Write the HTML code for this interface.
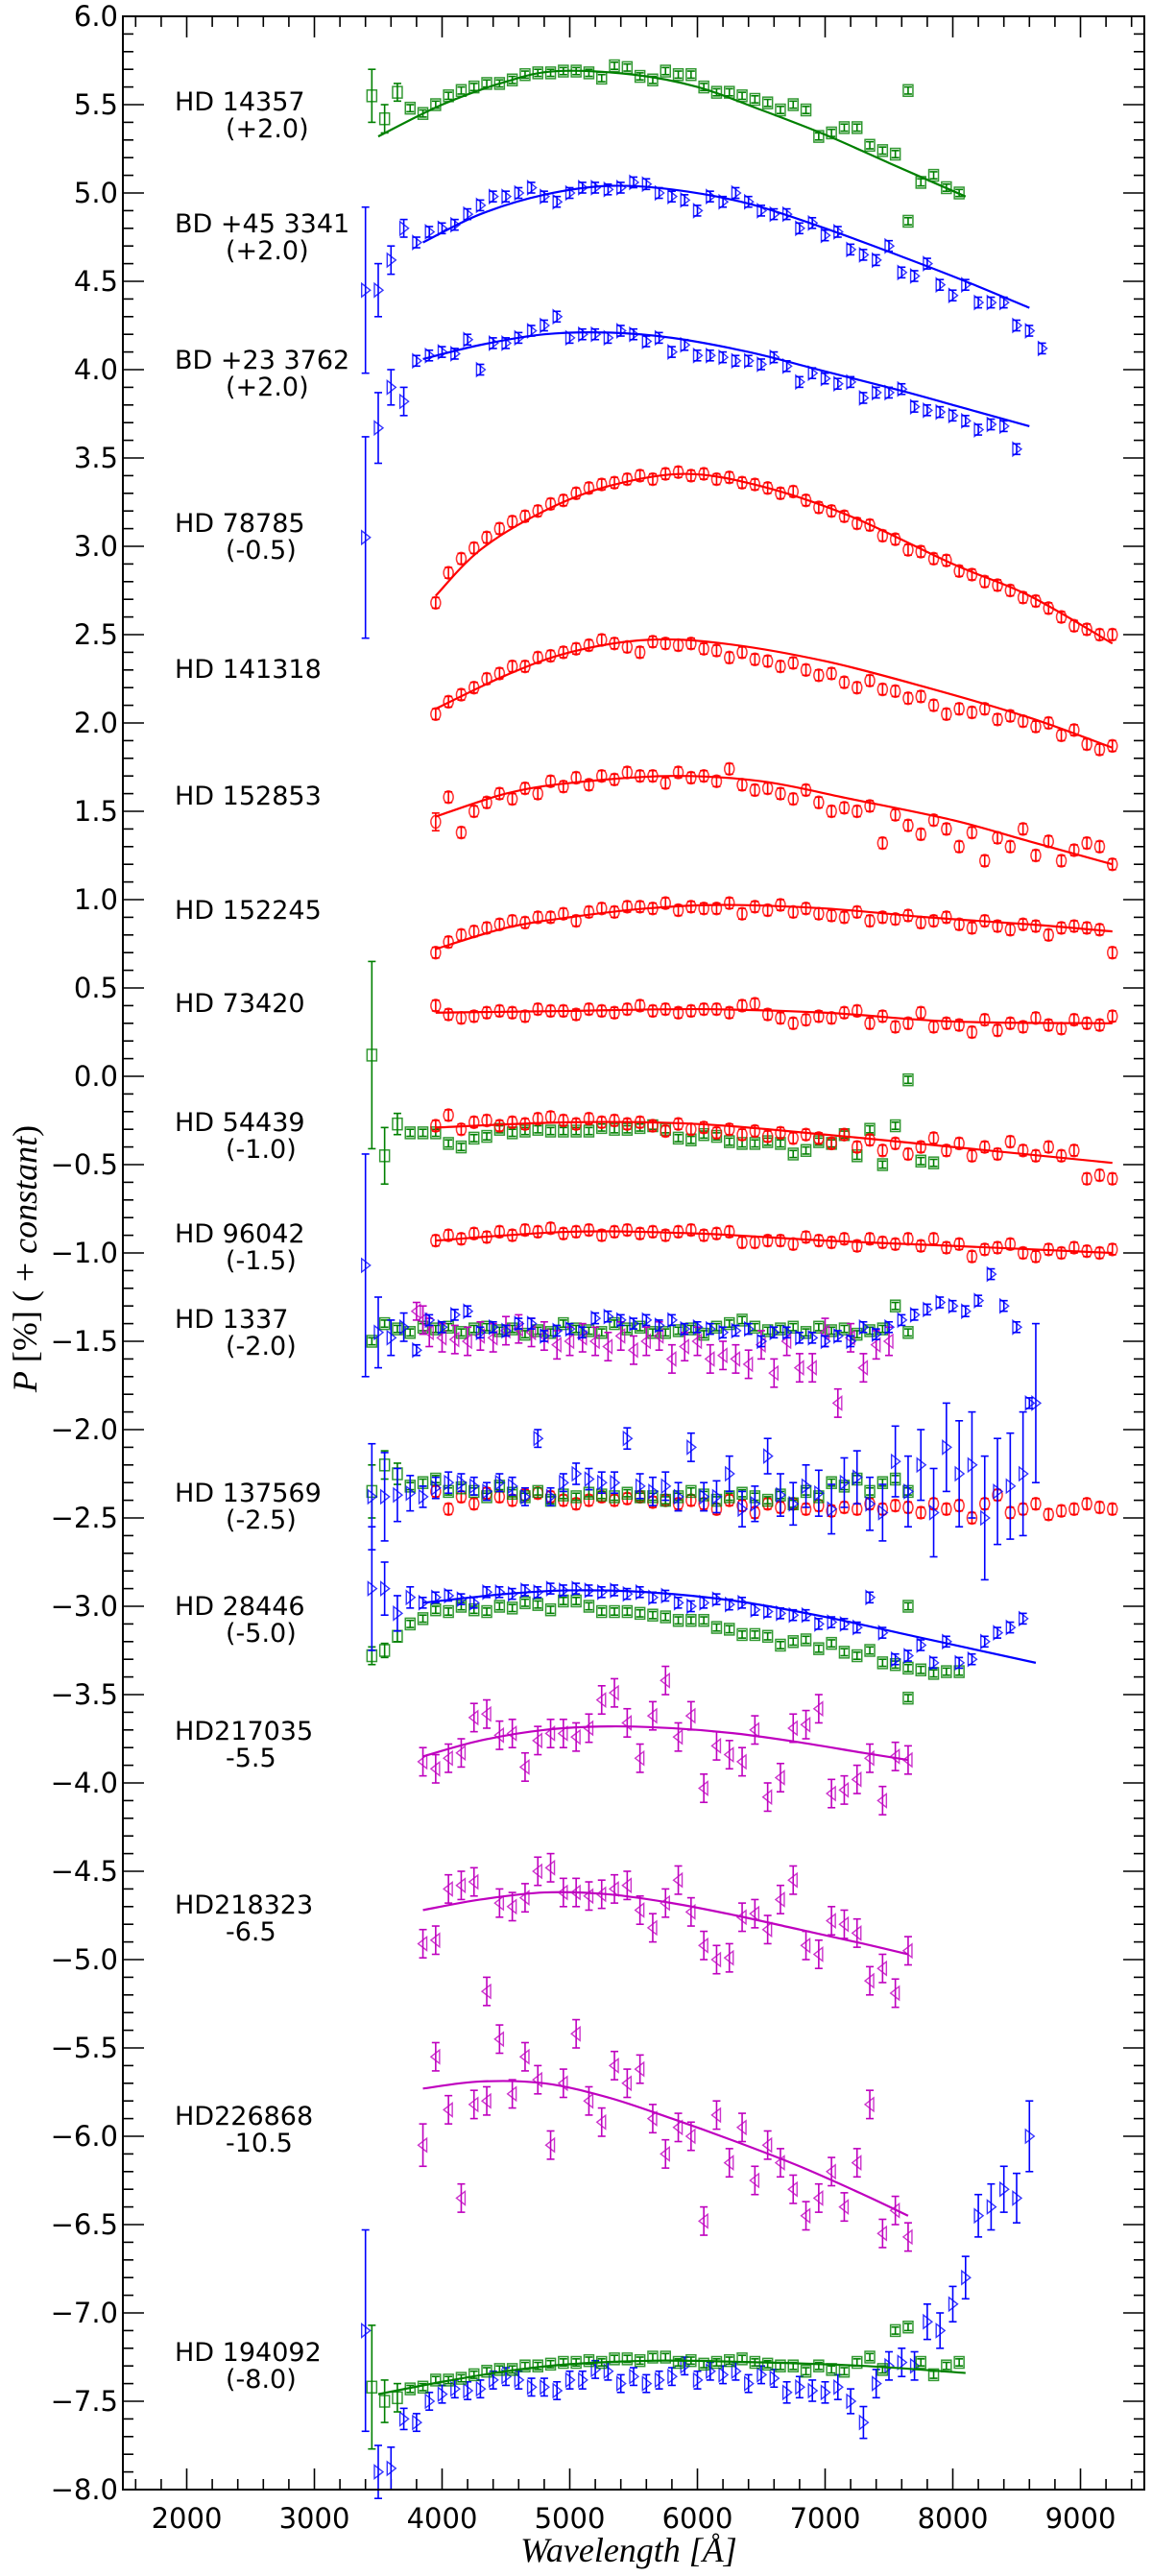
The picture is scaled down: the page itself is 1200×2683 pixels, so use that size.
<!DOCTYPE html>
<html><head><meta charset="utf-8"><style>
html,body{margin:0;padding:0;background:#fff}
svg{display:block}
text{font-family:"DejaVu Sans","Liberation Sans",sans-serif}
</style></head><body>
<svg id="chart" width="1200" height="2683" viewBox="0 0 1200 2683" xmlns="http://www.w3.org/2000/svg">
<g id="ticks"></g>
<g id="series"></g>
<rect x="128" y="17" width="1064" height="2576" fill="none" stroke="#000" stroke-width="2"/>
<g id="labels"></g>
<text x="655" y="2668" text-anchor="middle" font-size="36" style="font-family:'Liberation Serif','DejaVu Serif',serif;font-style:italic">Wavelength [Å]</text>
<text transform="translate(38,1311) rotate(-90)" text-anchor="middle" font-size="36" style="font-family:'Liberation Serif','DejaVu Serif',serif"><tspan font-style="italic">P</tspan> [%]  ( + <tspan font-style="italic">constant</tspan>)</text>
</svg>
<script>
// x-axis tick labels
const xTicks = [2000,3000,4000,5000,6000,7000,8000,9000];
const yTicks = [6.0,5.5,5.0,4.5,4.0,3.5,3.0,2.5,2.0,1.5,1.0,0.5,0.0,-0.5,-1.0,-1.5,-2.0,-2.5,-3.0,-3.5,-4.0,-4.5,-5.0,-5.5,-6.0,-6.5,-7.0,-7.5,-8.0];

// grids (start wavelength, step)
const redStart = 3950, redStep = 100;
const blueStart = 3400, blueStep = 100;
const greenStart = 3450, greenStep = 100;
const magStart = 3850, magStep = 100;

// HD 14357 (+2.0) green
const hd14357_g = [5.55,5.42,5.57,5.48,5.45,5.5,5.55,5.58,5.6,5.62,5.62,5.64,5.67,5.68,5.68,5.69,5.69,5.68,5.65,5.72,5.71,5.66,5.64,5.69,5.67,5.67,5.6,5.57,5.57,5.55,5.53,5.51,5.47,5.5,5.47,5.32,5.34,5.37,5.37,5.27,5.24,5.22,5.58,5.06,5.1,5.03,5.0];
const hd14357_gErr = [0.15,0.08,0.05];
const fit14357_w = [3500,4000,4500,4900,5500,6000,6500,7000,7500,8100];
const fit14357_p = [5.32,5.5,5.63,5.69,5.67,5.6,5.47,5.33,5.17,4.98];
const hd14357_extraW = [7650];
const hd14357_extraP = [4.84];

// BD +45 3341 (+2.0) blue
const bd45_b = [4.45,4.45,4.62,4.8,4.72,4.78,4.8,4.82,4.88,4.93,4.98,4.98,5.0,5.03,4.98,4.95,5.0,5.03,5.03,5.02,5.03,5.06,5.05,5.0,4.98,4.96,4.9,4.98,4.95,5.0,4.95,4.9,4.88,4.88,4.8,4.83,4.76,4.78,4.68,4.65,4.62,4.7,4.55,4.53,4.6,4.48,4.42,4.48,4.38,4.38,4.38,4.25,4.22,4.12];
const bd45_bErr = [0.47,0.15,0.08,0.05];
const fit45_w = [3850,4300,4800,5300,5800,6400,7000,7600,8100,8600];
const fit45_p = [4.72,4.88,4.99,5.04,5.02,4.94,4.8,4.64,4.5,4.35];

// BD +23 3762 (+2.0) blue
const bd23_b = [3.05,3.67,3.9,3.82,4.05,4.08,4.1,4.09,4.17,4.0,4.15,4.15,4.18,4.22,4.25,4.3,4.18,4.2,4.2,4.18,4.22,4.2,4.16,4.18,4.1,4.14,4.08,4.08,4.07,4.05,4.05,4.03,4.07,4.02,3.93,3.98,3.95,3.92,3.93,3.84,3.87,3.87,3.89,3.79,3.77,3.76,3.74,3.71,3.66,3.69,3.68,3.55];
const bd23_bErr = [0.57,0.2,0.1,0.08];
const fit23_w = [3850,4300,4800,5300,5800,6400,7000,7600,8100,8600];
const fit23_p = [4.06,4.14,4.2,4.21,4.18,4.1,3.99,3.88,3.78,3.68];

// HD 78785 (-0.5) red
const hd78785_r = [2.68,2.85,2.93,2.99,3.05,3.1,3.14,3.17,3.2,3.24,3.26,3.3,3.33,3.35,3.36,3.38,3.4,3.38,3.41,3.42,3.4,3.41,3.38,3.39,3.36,3.35,3.33,3.3,3.31,3.26,3.22,3.2,3.17,3.13,3.12,3.06,3.04,2.98,2.97,2.93,2.92,2.86,2.84,2.8,2.78,2.75,2.71,2.69,2.65,2.6,2.55,2.53,2.5,2.5];
const fit78785_w = [3950,4300,4800,5300,5900,6500,7200,8000,8600,9250];
const fit78785_p = [2.72,2.98,3.2,3.34,3.41,3.34,3.17,2.9,2.72,2.45];

// HD 141318 red
const hd141318_r = [2.05,2.12,2.16,2.2,2.25,2.28,2.32,2.32,2.37,2.38,2.4,2.42,2.44,2.47,2.45,2.43,2.4,2.46,2.45,2.44,2.45,2.42,2.41,2.37,2.4,2.36,2.35,2.32,2.34,2.3,2.27,2.28,2.23,2.2,2.24,2.19,2.18,2.14,2.15,2.1,2.05,2.08,2.06,2.08,2.02,2.04,2.01,1.98,2.0,1.93,1.96,1.88,1.85,1.87];
const fit141318_w = [3950,4500,5000,5600,6200,7000,7800,8600,9250];
const fit141318_p = [2.08,2.27,2.4,2.47,2.45,2.35,2.2,2.03,1.86];

// HD 152853 red
const hd152853_r = [1.44,1.58,1.38,1.5,1.55,1.6,1.57,1.63,1.6,1.67,1.64,1.69,1.65,1.7,1.68,1.72,1.7,1.7,1.66,1.72,1.69,1.7,1.67,1.74,1.65,1.62,1.63,1.6,1.57,1.62,1.55,1.5,1.52,1.5,1.53,1.32,1.48,1.42,1.37,1.45,1.4,1.3,1.38,1.22,1.35,1.3,1.4,1.25,1.33,1.22,1.28,1.32,1.3,1.2];
const fit152853_w = [3950,4500,5000,5800,6500,7200,8000,8600,9250];
const fit152853_p = [1.47,1.6,1.66,1.7,1.67,1.57,1.45,1.33,1.2];

// HD 152245 red
const hd152245_r = [0.7,0.76,0.8,0.82,0.84,0.86,0.88,0.87,0.9,0.9,0.92,0.88,0.93,0.95,0.93,0.96,0.96,0.95,0.98,0.94,0.96,0.95,0.95,0.98,0.92,0.96,0.94,0.97,0.93,0.95,0.92,0.91,0.9,0.93,0.88,0.9,0.89,0.91,0.87,0.88,0.9,0.86,0.84,0.88,0.85,0.83,0.86,0.85,0.8,0.84,0.85,0.84,0.83,0.7];
const fit152245_w = [3950,4500,5000,5600,6200,7000,7800,8600,9250];
const fit152245_p = [0.72,0.84,0.9,0.95,0.97,0.95,0.9,0.86,0.82];

// HD 73420 red
const hd73420_r = [0.4,0.35,0.33,0.34,0.36,0.37,0.36,0.34,0.38,0.37,0.37,0.35,0.38,0.37,0.36,0.38,0.4,0.37,0.38,0.36,0.37,0.38,0.38,0.36,0.4,0.41,0.35,0.33,0.3,0.32,0.34,0.33,0.36,0.37,0.3,0.34,0.28,0.3,0.36,0.28,0.3,0.29,0.25,0.32,0.26,0.3,0.28,0.33,0.29,0.27,0.32,0.3,0.29,0.34];
const fit73420_w = [3950,5000,6000,7000,8000,9250];
const fit73420_p = [0.36,0.37,0.38,0.36,0.31,0.3];

// HD 54439 (-1.0)
const hd54439_r = [-0.28,-0.22,-0.3,-0.26,-0.25,-0.28,-0.26,-0.27,-0.24,-0.23,-0.25,-0.27,-0.24,-0.26,-0.25,-0.27,-0.26,-0.28,-0.31,-0.27,-0.3,-0.29,-0.32,-0.3,-0.33,-0.31,-0.34,-0.32,-0.35,-0.33,-0.35,-0.38,-0.33,-0.4,-0.36,-0.42,-0.38,-0.44,-0.4,-0.35,-0.42,-0.38,-0.45,-0.4,-0.44,-0.37,-0.42,-0.45,-0.4,-0.45,-0.42,-0.58,-0.56,-0.58];
const fit54439_w = [3950,5000,6000,7000,8000,9250];
const fit54439_p = [-0.29,-0.26,-0.27,-0.33,-0.4,-0.49];
const hd54439_g = [0.12,-0.45,-0.27,-0.32,-0.32,-0.32,-0.38,-0.4,-0.35,-0.34,-0.3,-0.32,-0.31,-0.3,-0.31,-0.31,-0.31,-0.31,-0.29,-0.3,-0.3,-0.29,-0.28,-0.3,-0.35,-0.36,-0.33,-0.34,-0.37,-0.38,-0.38,-0.37,-0.38,-0.44,-0.42,-0.37,-0.38,-0.33,-0.45,-0.3,-0.5,-0.28,-0.02,-0.48,-0.49];
const hd54439_gErr = [0.53,0.16,0.06];

// HD 96042 (-1.5) red
const hd96042_r = [-0.93,-0.9,-0.92,-0.89,-0.91,-0.88,-0.9,-0.87,-0.88,-0.86,-0.89,-0.88,-0.87,-0.9,-0.88,-0.87,-0.89,-0.88,-0.9,-0.88,-0.87,-0.9,-0.89,-0.88,-0.94,-0.94,-0.93,-0.93,-0.95,-0.91,-0.93,-0.94,-0.92,-0.96,-0.92,-0.94,-0.95,-0.92,-0.96,-0.92,-0.97,-0.95,-1.02,-0.98,-0.97,-0.95,-1.0,-1.02,-0.98,-1.0,-0.97,-0.99,-1.0,-0.98];
const fit96042_w = [3950,5000,6000,7000,8000,9250];
const fit96042_p = [-0.93,-0.88,-0.89,-0.93,-0.96,-1.0];

// HD 1337 (-2.0)
const hd1337_b = [-1.07,-1.45,-1.48,-1.42,-1.55,-1.38,-1.42,-1.35,-1.33,-1.45,-1.42,-1.44,-1.4,-1.4,-1.47,-1.44,-1.43,-1.45,-1.37,-1.36,-1.38,-1.4,-1.38,-1.41,-1.38,-1.43,-1.42,-1.43,-1.45,-1.44,-1.43,-1.5,-1.45,-1.45,-1.48,-1.48,-1.5,-1.47,-1.5,-1.42,-1.46,-1.42,-1.38,-1.35,-1.32,-1.28,-1.3,-1.33,-1.27,-1.12,-1.3,-1.42,-1.85];
const hd1337_bErr = [0.63,0.2,0.1,0.08];
const hd1337_g = [-1.5,-1.4,-1.43,-1.45,-1.42,-1.43,-1.42,-1.45,-1.43,-1.42,-1.44,-1.43,-1.46,-1.44,-1.45,-1.4,-1.43,-1.44,-1.45,-1.4,-1.43,-1.42,-1.45,-1.45,-1.44,-1.43,-1.46,-1.42,-1.4,-1.38,-1.42,-1.44,-1.43,-1.42,-1.45,-1.42,-1.44,-1.43,-1.46,-1.44,-1.43,-1.3,-1.45];
const hd1337_m_w = [3800,3850,3900,4000,4100,4200,4300,4400,4500,4600,4700,4800,4900,5000,5100,5200,5300,5400,5500,5600,5700,5800,5900,6000,6100,6200,6300,6400,6500,6600,6700,6800,6900,7000,7100,7200,7300,7400,7500];
const hd1337_m = [-1.33,-1.38,-1.45,-1.48,-1.49,-1.5,-1.47,-1.48,-1.44,-1.43,-1.45,-1.47,-1.52,-1.5,-1.48,-1.5,-1.53,-1.47,-1.55,-1.5,-1.47,-1.6,-1.53,-1.5,-1.6,-1.58,-1.6,-1.63,-1.52,-1.68,-1.5,-1.65,-1.65,-1.45,-1.85,-1.48,-1.65,-1.52,-1.5];

// HD 137569 (-2.5)
const hd137569_b = [-2.38,-2.38,-2.37,-2.36,-2.38,-2.33,-2.3,-2.3,-2.32,-2.35,-2.3,-2.32,-2.38,-2.05,-2.38,-2.3,-2.25,-2.28,-2.3,-2.3,-2.05,-2.32,-2.35,-2.32,-2.38,-2.1,-2.38,-2.38,-2.25,-2.45,-2.42,-2.15,-2.37,-2.42,-2.32,-2.36,-2.45,-2.3,-2.27,-2.42,-2.47,-2.18,-2.35,-2.2,-2.47,-2.1,-2.25,-2.2,-2.5,-2.35,-2.32,-2.25,-1.85];
const hd137569_bErr = [0.3,0.25,0.15,0.1,0.06,0.06,0.06,0.05,0.05,0.05,0.05,0.05,0.05,0.05,0.05,0.05,0.06,0.06,0.06,0.06,0.06,0.07,0.08,0.08,0.08,0.08,0.08,0.09,0.1,0.1,0.1,0.1,0.12,0.12,0.12,0.13,0.14,0.14,0.15,0.15,0.16,0.2,0.2,0.2,0.25,0.25,0.3,0.3,0.35,0.3,0.3,0.35,0.45];
const hd137569_g = [-2.35,-2.2,-2.25,-2.32,-2.3,-2.28,-2.35,-2.33,-2.35,-2.38,-2.32,-2.36,-2.38,-2.35,-2.4,-2.37,-2.38,-2.36,-2.37,-2.38,-2.36,-2.38,-2.38,-2.4,-2.38,-2.35,-2.37,-2.4,-2.38,-2.36,-2.38,-2.4,-2.37,-2.42,-2.35,-2.38,-2.3,-2.32,-2.28,-2.35,-2.3,-2.28,-2.35];
const hd137569_gErr = [0.15,0.08,0.06];
const hd137569_r = [-2.35,-2.45,-2.38,-2.42,-2.36,-2.38,-2.4,-2.37,-2.36,-2.38,-2.4,-2.42,-2.4,-2.38,-2.4,-2.39,-2.38,-2.41,-2.4,-2.42,-2.4,-2.42,-2.45,-2.4,-2.43,-2.47,-2.42,-2.44,-2.42,-2.45,-2.43,-2.46,-2.44,-2.45,-2.42,-2.45,-2.43,-2.44,-2.47,-2.42,-2.45,-2.43,-2.5,-2.42,-2.37,-2.47,-2.45,-2.42,-2.48,-2.46,-2.45,-2.42,-2.44,-2.45];

// HD 28446 (-5.0)
const hd28446_b = [-2.9,-2.9,-3.04,-2.95,-2.98,-2.95,-2.94,-2.96,-2.98,-2.92,-2.92,-2.93,-2.91,-2.92,-2.9,-2.91,-2.9,-2.91,-2.92,-2.91,-2.93,-2.92,-2.95,-2.94,-2.98,-3.0,-2.98,-2.96,-2.99,-2.98,-3.02,-3.03,-3.04,-3.05,-3.05,-3.1,-3.09,-3.1,-3.12,-2.95,-3.15,-3.3,-3.28,-3.22,-3.32,-3.2,-3.32,-3.3,-3.2,-3.15,-3.12,-3.07];
const hd28446_bStart = 3450;
const hd28446_bErr = [0.35,0.15,0.1,0.06];
const fit28446_w = [3850,4500,5000,5600,6300,7000,7700,8650];
const fit28446_p = [-2.98,-2.93,-2.91,-2.92,-2.97,-3.06,-3.17,-3.32];
const hd28446_g = [-3.28,-3.25,-3.17,-3.1,-3.07,-3.02,-3.03,-3.0,-3.02,-3.03,-3.0,-3.01,-2.98,-2.99,-3.02,-2.97,-2.97,-3.0,-3.03,-3.03,-3.03,-3.04,-3.05,-3.06,-3.08,-3.08,-3.08,-3.12,-3.13,-3.16,-3.16,-3.17,-3.22,-3.2,-3.19,-3.24,-3.21,-3.26,-3.28,-3.25,-3.32,-3.33,-3.35,-3.36,-3.38,-3.37,-3.37];
const hd28446_gExtraW = [7650,7650];
const hd28446_gExtraP = [-3.52,-3.0];

// HD217035 (-5.5) magenta
const hd217035_m = [-3.88,-3.92,-3.86,-3.83,-3.63,-3.61,-3.73,-3.72,-3.91,-3.76,-3.72,-3.72,-3.74,-3.69,-3.53,-3.49,-3.66,-3.86,-3.62,-3.42,-3.74,-3.62,-4.03,-3.79,-3.84,-3.88,-3.7,-4.08,-3.97,-3.69,-3.67,-3.58,-4.06,-4.04,-3.98,-3.86,-4.1,-3.85,-3.87];
const fit217035_w = [3850,4300,4800,5300,5800,6300,6800,7300,7650];
const fit217035_p = [-3.85,-3.76,-3.7,-3.68,-3.69,-3.72,-3.77,-3.83,-3.87];

// HD218323 (-6.5) magenta
const hd218323_m = [-4.91,-4.89,-4.6,-4.58,-4.56,-5.18,-4.68,-4.7,-4.65,-4.5,-4.48,-4.62,-4.62,-4.64,-4.63,-4.6,-4.58,-4.72,-4.82,-4.68,-4.55,-4.73,-4.92,-5.0,-4.99,-4.76,-4.74,-4.83,-4.66,-4.55,-4.92,-4.97,-4.78,-4.8,-4.85,-5.12,-5.05,-5.19,-4.95];
const fit218323_w = [3850,4300,4800,5300,5800,6300,6800,7300,7650];
const fit218323_p = [-4.72,-4.66,-4.62,-4.63,-4.68,-4.75,-4.83,-4.91,-4.97];

// HD226868 (-10.5) magenta
const hd226868_m = [-6.05,-5.55,-5.85,-6.35,-5.82,-5.8,-5.45,-5.76,-5.55,-5.68,-6.05,-5.7,-5.42,-5.8,-5.92,-5.6,-5.7,-5.62,-5.9,-6.1,-5.95,-6.0,-6.48,-5.88,-6.15,-5.95,-6.25,-6.05,-6.15,-6.3,-6.45,-6.35,-6.2,-6.4,-6.15,-5.82,-6.55,-6.42,-6.57];
const fit226868_w = [3850,4300,4800,5300,5800,6300,6800,7300,7650];
const fit226868_p = [-5.73,-5.69,-5.7,-5.78,-5.9,-6.03,-6.17,-6.33,-6.45];

// HD 194092 (-8.0)
const hd194092_g = [-7.42,-7.5,-7.48,-7.43,-7.42,-7.38,-7.38,-7.37,-7.35,-7.33,-7.32,-7.32,-7.3,-7.3,-7.29,-7.28,-7.28,-7.27,-7.28,-7.26,-7.26,-7.27,-7.25,-7.25,-7.28,-7.27,-7.29,-7.28,-7.27,-7.26,-7.28,-7.29,-7.3,-7.3,-7.33,-7.3,-7.32,-7.33,-7.28,-7.25,-7.32,-7.1,-7.08,-7.28,-7.35,-7.3,-7.28];
const hd194092_gErr = [0.35,0.12,0.08];
const fit194092_w = [3500,4000,4500,5000,5700,6500,7300,8100];
const fit194092_p = [-7.46,-7.39,-7.33,-7.29,-7.27,-7.28,-7.3,-7.34];
const hd194092_b = [-7.1,-7.9,-7.88,-7.6,-7.62,-7.5,-7.46,-7.43,-7.44,-7.43,-7.38,-7.36,-7.38,-7.42,-7.42,-7.44,-7.38,-7.38,-7.32,-7.33,-7.4,-7.36,-7.4,-7.38,-7.36,-7.3,-7.38,-7.33,-7.35,-7.33,-7.4,-7.35,-7.37,-7.45,-7.42,-7.44,-7.45,-7.42,-7.5,-7.62,-7.4,-7.3,-7.28,-7.3,-7.05,-7.1,-6.95,-6.8,-6.45,-6.4,-6.3,-6.35,-6.0];
const hd194092_bErr = [0.57,0.15,0.12,0.06,0.05,0.05,0.05,0.05,0.05,0.05,0.05,0.05,0.05,0.05,0.05,0.05,0.05,0.05,0.05,0.05,0.05,0.05,0.05,0.05,0.05,0.05,0.05,0.05,0.05,0.05,0.05,0.05,0.05,0.06,0.06,0.06,0.06,0.07,0.07,0.09,0.08,0.08,0.08,0.08,0.1,0.1,0.1,0.12,0.12,0.13,0.13,0.14,0.2];

const labels1 = ["HD 14357","BD +45 3341","BD +23 3762","HD 78785","HD 141318","HD 152853","HD 152245","HD 73420","HD 54439","HD 96042","HD 1337","HD 137569","HD 28446","HD217035","HD218323","HD226868","HD 194092"];
const labels2 = ["(+2.0)","(+2.0)","(+2.0)","(-0.5)","","","","","(-1.0)","(-1.5)","(-2.0)","(-2.5)","(-5.0)","-5.5","-6.5","-10.5","(-8.0)"];
const labelY = [115,242,384,554,706,838,957,1054,1178,1294,1383,1564,1682,1812,1993,2213,2459];

const NS = "http://www.w3.org/2000/svg";
const X0 = 128, X1 = 1192, Y0 = 17, Y1 = 2593;
const WMIN = 1500, WMAX = 9500, PMAX = 6, PMIN = -8;
function xs(w){ return X0 + (w - WMIN) / (WMAX - WMIN) * (X1 - X0); }
function ys(p){ return Y0 + (PMAX - p) / (PMAX - PMIN) * (Y1 - Y0); }
function mk(tag, attrs, parent){ const e = document.createElementNS(NS, tag); for (const k in attrs) e.setAttribute(k, attrs[k]); parent.appendChild(e); return e; }

const gT = document.getElementById('ticks');
const gS = document.getElementById('series');
const gL = document.getElementById('labels');

// ticks
for (let w = 1600; w <= 9400; w += 200) {
  const major = (w % 1000 === 0);
  const len = major ? 22 : 11;
  const x = xs(w);
  const t1 = mk('line', {x1:x, y1:Y1, x2:x, y2:Y1-len, stroke:'#000', 'stroke-width':1.6}, gT);
  
  
  const t2 = mk('line', {x1:x, y1:Y0, x2:x, y2:Y0+len, stroke:'#000', 'stroke-width':1.6}, gT);
  
  
}
xTicks.forEach(w => {
  const t = mk('text', {x:xs(w), y:Y1+40, 'text-anchor':'middle', 'font-size':29}, gT);
  t.textContent = String(w);
  
  
});
for (let i = 0; i <= 140; i++) {
  const p = PMAX - i * 0.1;
  const major = (i % 5 === 0);
  const len = major ? 22 : 11;
  const y = ys(p);
  const t1 = mk('line', {x1:X0, y1:y, x2:X0+len, y2:y, stroke:'#000', 'stroke-width':1.6}, gT);
  
  
  const t2 = mk('line', {x1:X1, y1:y, x2:X1-len, y2:y, stroke:'#000', 'stroke-width':1.6}, gT);
  
  
}
yTicks.forEach(p => {
  const t = mk('text', {x:123, y:ys(p)+10, 'text-anchor':'end', 'font-size':29}, gT);
  t.textContent = (p < 0 ? '\u2212' : '') + Math.abs(p).toFixed(1);
  
  
});

const COL = {g:'#008000', b:'#0000ff', r:'#ff0000', m:'#bf00bf'};
const DEFERR = {g:0.02, b:0.03, r:0.03, m:0.08};

function marker(kind, x, y, parent){
  const c = COL[kind];
  let e;
  if (kind === 'g') e = mk('rect', {x:x-5, y:y-6, width:10, height:12, fill:'none', stroke:c, 'stroke-width':1.5, opacity:0.8}, parent);
  else if (kind === 'r') e = mk('ellipse', {cx:x, cy:y, rx:5, ry:6.5, fill:'none', stroke:c, 'stroke-width':1.5, opacity:0.8}, parent);
  else if (kind === 'b') e = mk('polygon', {points:`${x-4},${y-7} ${x+5},${y} ${x-4},${y+7}`, fill:'none', stroke:c, 'stroke-width':1.4, opacity:0.8}, parent);
  else e = mk('polygon', {points:`${x+4},${y-7} ${x-5},${y} ${x+4},${y+7}`, fill:'none', stroke:c, 'stroke-width':1.4, opacity:0.8}, parent);
  return e;
}
function errbar(kind, x, p, err, parent){
  const c = COL[kind];
  const ya = ys(p + err), yb = ys(p - err);
  const g = mk('g', {stroke:c, 'stroke-width':1.6}, parent);
  
  
  mk('line', {x1:x, y1:ya, x2:x, y2:yb}, g);
  mk('line', {x1:x-4, y1:ya, x2:x+4, y2:ya}, g);
  mk('line', {x1:x-4, y1:yb, x2:x+4, y2:yb}, g);
}
function drawPoints(name, kind, wArr, pArr, errArr){
  const g = mk('g', {}, gS);
  
  
  const n = Math.min(wArr.length, pArr.length);
  for (let i = 0; i < n; i++) {
    const err = (errArr && i < errArr.length) ? errArr[i] : DEFERR[kind];
    const x = xs(wArr[i]), y = ys(pArr[i]);
    errbar(kind, x, pArr[i], err, g);
    const m = marker(kind, x, y, g);
    
    
  }
}
function grid(start, step, n){ const a = []; for (let i = 0; i < n; i++) a.push(start + i * step); return a; }
function drawFit(name, kind, wArr, pArr){
  const pts = wArr.map((w, i) => [xs(w), ys(pArr[i])]);
  let d = `M${pts[0][0]},${pts[0][1]}`;
  for (let i = 0; i < pts.length - 1; i++) {
    const p0 = pts[Math.max(0, i-1)], p1 = pts[i], p2 = pts[i+1], p3 = pts[Math.min(pts.length-1, i+2)];
    const c1x = p1[0] + (p2[0]-p0[0])/6, c1y = p1[1] + (p2[1]-p0[1])/6;
    const c2x = p2[0] - (p3[0]-p1[0])/6, c2y = p2[1] - (p3[1]-p1[1])/6;
    d += ` C${c1x},${c1y} ${c2x},${c2y} ${p2[0]},${p2[1]}`;
  }
  const e = mk('path', {d:d, fill:'none', stroke:COL[kind], 'stroke-width':2.2}, gS);
  
  
}
function series(name, kind, start, step, vals, errs){ drawPoints(name, kind, grid(start, step, vals.length), vals, errs); }

// HD 14357
series('hd14357-green-points', 'g', greenStart, greenStep, hd14357_g, hd14357_gErr);
drawPoints('hd14357-extra-point', 'g', hd14357_extraW, hd14357_extraP, null);
drawFit('hd14357-fit', 'g', fit14357_w, fit14357_p);
// BD+45
series('bd45-blue-points', 'b', blueStart, blueStep, bd45_b, bd45_bErr);
drawFit('bd45-fit', 'b', fit45_w, fit45_p);
// BD+23
series('bd23-blue-points', 'b', blueStart, blueStep, bd23_b, bd23_bErr);
drawFit('bd23-fit', 'b', fit23_w, fit23_p);
// red stars
series('hd78785-points', 'r', redStart, redStep, hd78785_r, null);
drawFit('hd78785-fit', 'r', fit78785_w, fit78785_p);
series('hd141318-points', 'r', redStart, redStep, hd141318_r, null);
drawFit('hd141318-fit', 'r', fit141318_w, fit141318_p);
series('hd152853-points', 'r', redStart, redStep, hd152853_r, [0.05]);
drawFit('hd152853-fit', 'r', fit152853_w, fit152853_p);
series('hd152245-points', 'r', redStart, redStep, hd152245_r, null);
drawFit('hd152245-fit', 'r', fit152245_w, fit152245_p);
series('hd73420-points', 'r', redStart, redStep, hd73420_r, null);
drawFit('hd73420-fit', 'r', fit73420_w, fit73420_p);
// HD 54439
series('hd54439-green-points', 'g', greenStart, greenStep, hd54439_g, hd54439_gErr);
series('hd54439-red-points', 'r', redStart, redStep, hd54439_r, null);
drawFit('hd54439-fit', 'r', fit54439_w, fit54439_p);
// HD 96042
series('hd96042-points', 'r', redStart, redStep, hd96042_r, null);
drawFit('hd96042-fit', 'r', fit96042_w, fit96042_p);
// HD 1337
series('hd1337-green-points', 'g', greenStart, greenStep, hd1337_g, null);
drawPoints('hd1337-magenta-points', 'm', hd1337_m_w, hd1337_m, [0.05]);
series('hd1337-blue-points', 'b', blueStart, blueStep, hd1337_b, hd1337_bErr);
// HD 137569
series('hd137569-red-points', 'r', redStart, redStep, hd137569_r, null);
series('hd137569-green-points', 'g', greenStart, greenStep, hd137569_g, hd137569_gErr);
series('hd137569-blue-points', 'b', greenStart, blueStep, hd137569_b, hd137569_bErr);
// HD 28446
series('hd28446-green-points', 'g', greenStart, greenStep, hd28446_g, [0.05,0.04,0.03]);
drawPoints('hd28446-green-extra', 'g', hd28446_gExtraW, hd28446_gExtraP, null);
series('hd28446-blue-points', 'b', hd28446_bStart, blueStep, hd28446_b, hd28446_bErr);
drawFit('hd28446-fit', 'b', fit28446_w, fit28446_p);
// magenta
series('hd217035-points', 'm', magStart, magStep, hd217035_m, null);
drawFit('hd217035-fit', 'm', fit217035_w, fit217035_p);
series('hd218323-points', 'm', magStart, magStep, hd218323_m, null);
drawFit('hd218323-fit', 'm', fit218323_w, fit218323_p);
series('hd226868-points', 'm', magStart, magStep, hd226868_m, [0.12]);
drawFit('hd226868-fit', 'm', fit226868_w, fit226868_p);
// HD 194092
series('hd194092-blue-points', 'b', blueStart, blueStep, hd194092_b, hd194092_bErr);
series('hd194092-green-points', 'g', greenStart, greenStep, hd194092_g, hd194092_gErr);
drawFit('hd194092-fit', 'g', fit194092_w, fit194092_p);

// star labels
labels1.forEach((s, i) => {
  const t = mk('text', {x:182, y:labelY[i], 'font-size':27}, gL);
  t.textContent = s;
  
  
  if (labels2[i]) {
    const t2 = mk('text', {x:235, y:labelY[i]+28, 'font-size':27}, gL);
    t2.textContent = labels2[i];
    
    
  }
});
</script>
</body></html>
